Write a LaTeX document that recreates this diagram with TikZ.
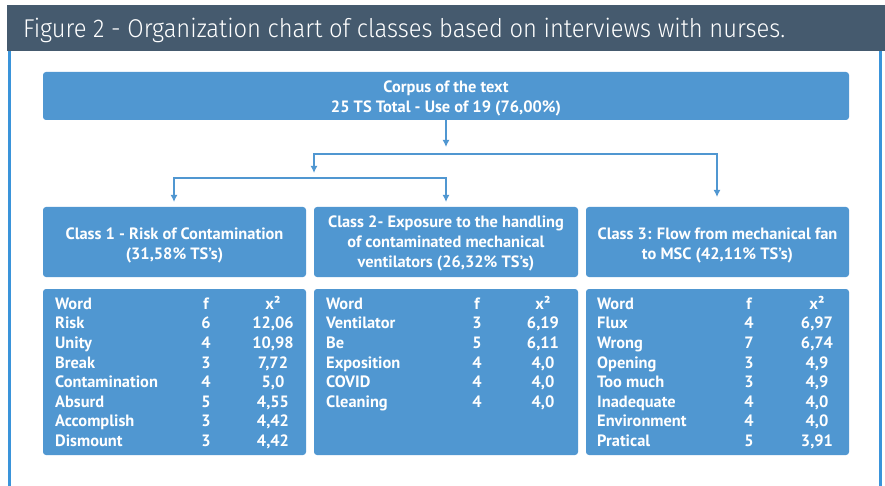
\documentclass[tikz,border=0pt]{standalone}
\usepackage{fontspec}
\setmainfont{PT Sans}
\newfontfamily\titlefont{Fira Sans Light}
\usetikzlibrary{arrows.meta}
\definecolor{barcol}{HTML}{455A6E}
\definecolor{boxcol}{HTML}{5097D1}
\definecolor{edgecol}{HTML}{3A94DA}
\begin{document}
\begin{tikzpicture}[x=1pt,y=-1pt,
  box/.style={draw=none, fill=boxcol, rounded corners=3pt, inner sep=0pt},
  boxtext/.style={text=white, font=\bfseries\fontsize{16.4}{19.8}\selectfont, align=center, inner sep=0pt},
  conn/.style={draw=boxcol, line width=2pt},
  arr/.style={conn, -{Latex[length=7pt,width=7pt]}},
  cell/.style={text=white, font=\bfseries\fontsize{16.4}{19.8}\selectfont, inner sep=0pt, anchor=base}
]
\useasboundingbox (0,0) rectangle (885,486);
\fill[white] (0,0) rectangle (885,486);
\fill[barcol] (7,5) rectangle (885,51.5);
\node[anchor=base west, text=white, inner sep=0pt, font=\titlefont\fontsize{25.7}{30}\selectfont] (title) at (23,38)
  {\resizebox{762pt}{\height}{Figure 2 - Organization chart of classes based on interviews with nurses.}};
\draw[edgecol, line width=3pt] (9,51.5) -- (9,486);
\draw[edgecol, line width=3pt] (880.5,51.5) -- (880.5,486);

\node[box, minimum width=806pt, minimum height=48pt] (corpus) at (446,96) {};
\node[boxtext] (corpustext) at (446,98.5) {Corpus of the text\\25 TS Total - Use of 19 (76,00\%)};
\node[box, minimum width=263pt, minimum height=70pt] (class1) at (174.5,242) {};
\node[boxtext] (class1text) at (174.5,245.3) {Class 1 - Risk of Contamination\\(31,58\% TS’s)};
\node[box, minimum width=264pt, minimum height=70pt] (class2) at (446,242) {};
\node[boxtext] (class2text) at (446,243.5) {Class 2- Exposure to the handling\\of contaminated mechanical\\ventilators (26,32\% TS’s)};
\node[box, minimum width=263pt, minimum height=70pt] (class3) at (717.5,242) {};
\node[boxtext] (class3text) at (717.5,245.3) {Class 3: Flow from mechanical fan\\to MSC (42,11\% TS’s)};
\node[box, minimum width=263pt, minimum height=166pt] (table1) at (174.5,372) {};
\node[box, minimum width=264pt, minimum height=166pt] (table2) at (446,372) {};
\node[box, minimum width=263pt, minimum height=166pt] (table3) at (717.5,372) {};

\coordinate (c0) at (446,147);
\draw[arr] (corpus.south) -- (c0);
\coordinate (hL) at (314,154);
\coordinate (hR) at (717,154);
\coordinate (c1) at (314,173);
\coordinate (c3) at (717,197);
\draw[arr] (hR) -- (hL) -- (c1);
\draw[arr] (hL) -- (hR) -- (c3);
\coordinate (gL) at (174,178);
\coordinate (gR) at (446,178);
\coordinate (a1) at (174,202);
\coordinate (a2) at (446,202);
\draw[arr] (gR) -- (gL) -- (a1);
\draw[arr] (gL) -- (gR) -- (a2);

\foreach \w/\f/\x [count=\i from 0] in {Word/f/{x²}, Risk/6/{12,06}, Unity/4/{10,98}, Break/3/{7,72},
  Contamination/4/{5,0}, Absurd/5/{4,55}, Accomplish/3/{4,42}, Dismount/3/{4,42}} {
  \node[cell, anchor=base west] (ta\i) at (55,{309.3+19.6*\i}) {\w};
  \node[cell] (tb\i) at (206,{309.3+19.6*\i}) {\f};
  \node[cell] (tc\i) at (273,{309.3+19.6*\i}) {\x};
}
\foreach \w/\f/\x [count=\i from 0] in {Word/f/{x²}, Ventilator/3/{6,19}, Be/5/{6,11}, Exposition/4/{4,0},
  COVID/4/{4,0}, Cleaning/4/{4,0}} {
  \node[cell, anchor=base west] (ua\i) at (326,{309.3+19.6*\i}) {\w};
  \node[cell] (ub\i) at (477,{309.3+19.6*\i}) {\f};
  \node[cell] (uc\i) at (543,{309.3+19.6*\i}) {\x};
}
\foreach \w/\f/\x [count=\i from 0] in {Word/f/{x²}, Flux/4/{6,97}, Wrong/7/{6,74}, Opening/3/{4,9},
  Too much/3/{4,9}, Inadequate/4/{4,0}, Environment/4/{4,0}, Pratical/5/{3,91}} {
  \node[cell, anchor=base west] (va\i) at (597,{309.3+19.6*\i}) {\w};
  \node[cell] (vb\i) at (749,{309.3+19.6*\i}) {\f};
  \node[cell] (vc\i) at (817,{309.3+19.6*\i}) {\x};
}
\end{tikzpicture}
\end{document}
